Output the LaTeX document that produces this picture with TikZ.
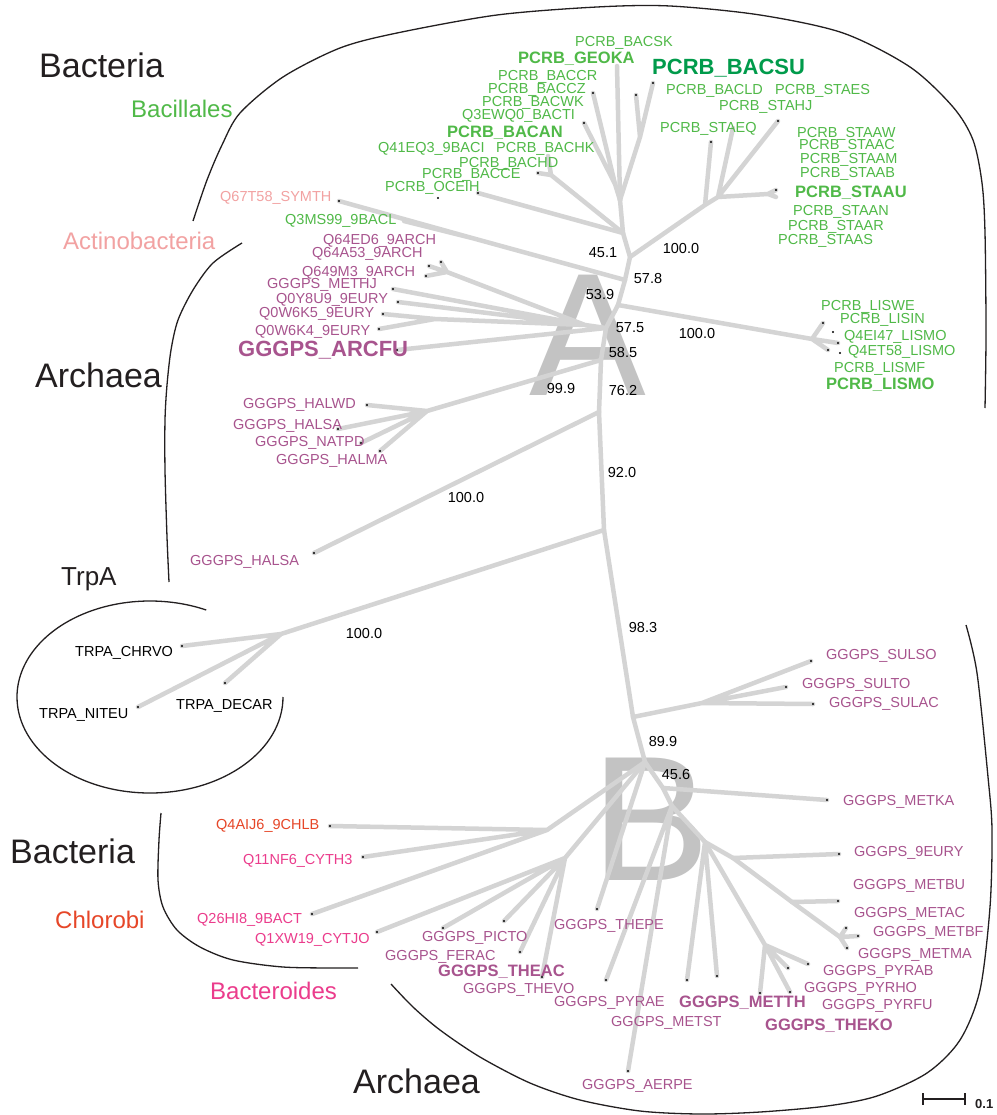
\documentclass[tikz,border=0pt]{standalone}
\usepackage{fontspec}
\setmainfont{Liberation Sans}
\definecolor{cgreen}{RGB}{80,185,72}
\definecolor{cdgreen}{RGB}{0,155,75}
\definecolor{cpurple}{RGB}{168,84,142}
\definecolor{cpink}{RGB}{242,162,162}
\definecolor{cred}{RGB}{230,70,40}
\definecolor{cmag}{RGB}{235,60,140}
\definecolor{ctext}{RGB}{35,31,32}
\definecolor{cbranch}{RGB}{212,212,212}
\definecolor{cletter}{RGB}{195,195,195}
\begin{document}
\begin{tikzpicture}[x=1pt,y=-1pt,
  br/.style={draw=cbranch,line width=4.5pt,line cap=round,line join=round},
  lab/.style={font=\fontsize{14.5}{16}\selectfont,inner sep=0pt,anchor=base west},
  blab/.style={font=\fontsize{16.5}{18}\selectfont\bfseries,inner sep=0pt,anchor=base west},
  hlab/.style={font=\fontsize{22}{24}\selectfont\bfseries,inner sep=0pt,anchor=base west},
  boot/.style={font=\fontsize{14.5}{16}\selectfont,inner sep=0pt,anchor=base,text=black},
  big/.style={font=\fontsize{34}{36}\selectfont,inner sep=0pt,anchor=base west,text=ctext},
  grp/.style={font=\fontsize{24}{26}\selectfont,inner sep=0pt,anchor=base west},
  curve/.style={draw=ctext,line width=1.3pt},
  gr/.style={lab,text=cgreen},
  pu/.style={lab,text=cpurple}]
\useasboundingbox (0,0) rectangle (996,1115);
\fill[white] (0,0) rectangle (996,1115);

% big letters
\node[font=\fontsize{175}{175}\selectfont,text=cletter,anchor=base,inner sep=0pt] (letA) at (588,395) {A};
\node[font=\fontsize{178}{178}\selectfont,text=cletter,anchor=base west,inner sep=0pt] (letB) at (591,880) {B};

% ---------- coordinates ----------
% trunk
\coordinate (t0) at (620,200);
\coordinate (t1) at (623,233);
\coordinate (t2) at (630,257);
\coordinate (t3) at (625,280);
\coordinate (t4) at (618,305);
\coordinate (t5) at (606,328);
\coordinate (t6) at (601,360);
\coordinate (t7) at (599,412);
\coordinate (t8) at (604,530);
\coordinate (t9) at (633,717);
\coordinate (t10) at (645,762);
\coordinate (t11) at (663,788);
\coordinate (t12) at (672,806);
\coordinate (t13) at (705,842);
% bacillales
\coordinate (bGEOKA) at (617,66);
\coordinate (bBACSU) at (653,83);
\coordinate (bX1) at (636,95);
\coordinate (jSU) at (640,137);
\coordinate (bBACCZ) at (593,93);
\coordinate (bBACTI) at (584,123);
\coordinate (jCZ) at (615,184);
\coordinate (bBACCE) at (538,173);
\coordinate (bBACHK) at (548,156);
\coordinate (jHD) at (551,175);
\coordinate (bOCEIH) at (478,193);
\coordinate (bX2) at (438,198);
% staph
\coordinate (jS1) at (705,205);
\coordinate (jS2) at (718,197);
\coordinate (sEQ) at (711,142);
\coordinate (sEQ2) at (733,128);
\coordinate (sHJ) at (778,121);
\coordinate (sAU) at (768,194);
\coordinate (sAUa) at (776,190);
\coordinate (sAUb) at (776,197);
% actino
\coordinate (aSYM) at (339,201);
\coordinate (aMS) at (404,221);
\coordinate (jAct) at (472,238);
% listeria
\coordinate (jL) at (812,339);
\coordinate (lWE) at (823,323);
\coordinate (lIN) at (833,332);
\coordinate (l3) at (838,343);
\coordinate (l4) at (828,350);
\coordinate (l5) at (840,353);
% archaea upper
\coordinate (qA) at (429,266);
\coordinate (qB) at (441,262);
\coordinate (qC) at (426,276);
\coordinate (jQ) at (447,272);
\coordinate (mHJ) at (393,289);
\coordinate (mY8) at (398,302);
\coordinate (mK5) at (383,314);
\coordinate (mK4) at (379,329);
\coordinate (jM1) at (435,319);
\coordinate (jM) at (585,325);
\coordinate (mAR) at (397,350);
% halo
\coordinate (jH) at (427,411);
\coordinate (hWD) at (367,405);
\coordinate (hSA) at (338,429);
\coordinate (hNA) at (361,443);
\coordinate (hMA) at (380,451);
\coordinate (hSA2) at (314,553);
% trpA
\coordinate (jT) at (281,634);
\coordinate (tCH) at (182,646);
\coordinate (tNI) at (138,707);
\coordinate (tDE) at (225,683);
% sul
\coordinate (jSul) at (702,703);
\coordinate (sSO) at (811,661);
\coordinate (sTO) at (786,687);
\coordinate (sAC) at (813,704);
% bottom left
\coordinate (jB) at (547,830);
\coordinate (cCH) at (330,826);
\coordinate (cCY) at (363,857);
\coordinate (cBA) at (312,914);
\coordinate (jTh) at (565,858);
\coordinate (cJO) at (377,932);
\coordinate (tPI) at (443,928);
\coordinate (tFE) at (504,921);
\coordinate (tTA) at (520,952);
\coordinate (tTV) at (542,977);
\coordinate (tPE) at (597,909);
% bottom right
\coordinate (mKA) at (827,800);
\coordinate (tAE) at (628,1071);
\coordinate (tPY) at (606,980);
\coordinate (tTH1) at (687,980);
\coordinate (tTH2) at (717,976);
\coordinate (jP) at (765,945);
\coordinate (pK) at (760,993);
\coordinate (pH) at (790,992);
\coordinate (pA1) at (788,968);
\coordinate (pA2) at (808,964);
\coordinate (d1) at (733,858);
\coordinate (m9E) at (839,854);
\coordinate (d2) at (792,902);
\coordinate (mBU) at (838,901);
\coordinate (jMA) at (840,937);
\coordinate (mAC) at (846,928);
\coordinate (mBF) at (858,936);
\coordinate (mMA) at (847,948);

% ---------- branches ----------
\draw[br] (t0)--(t1)--(t2)--(t3)--(t4)--(t5)--(t6)--(t7)--(t8)--(t9)--(t10)--(t11)--(t12)--(t13)--(d1)--(d2)--(jMA);
\draw[br] (bGEOKA)--(t0);
\draw[br] (bBACSU)--(jSU) (bX1)--(jSU) (jSU)--(t0);
\draw[br] (bBACCZ)--(jCZ) (bBACTI)--(jCZ) (jCZ)--(t0);
\draw[br] (bBACCE)--(jHD) (bBACHK)--(jHD) (jHD)--(t1);
\draw[br] (bOCEIH)--(t1);
\draw[br] (t2)--(jS1)--(sEQ) (jS1)--(jS2)--(sEQ2) (jS2)--(sHJ) (jS2)--(sAU)--(sAUa) (sAU)--(sAUb);
\draw[br] (aSYM)--(jAct)--(t3) (aMS)--(jAct);
\draw[br] (t4)--(jL)--(lWE) (jL)--(l3) (jL)--(l4);
\draw[br] (qA)--(jQ) (qB)--(jQ) (qC)--(jQ) (jQ)--(jM) (mHJ)--(jM) (mY8)--(jM) (mK5)--(jM1) (mK4)--(jM1) (jM1)--(jM) (jM)--(t5) (mAR)--(t5);
\draw[br] (t6)--(jH)--(hWD) (jH)--(hSA) (jH)--(hNA) (jH)--(hMA);
\draw[br] (t7)--(hSA2);
\draw[br] (t8)--(jT)--(tCH) (jT)--(tNI) (jT)--(tDE);
\draw[br] (t9)--(jSul)--(sSO) (jSul)--(sTO) (jSul)--(sAC);
\draw[br] (t10)--(jB)--(cCH) (jB)--(cCY) (jB)--(cBA);
\draw[br] (t10)--(jTh)--(cJO) (jTh)--(tPI) (jTh)--(tFE) (jTh)--(tTA) (jTh)--(tTV);
\draw[br] (t10)--(tPE);
\draw[br] (t11)--(mKA) (t12)--(tPY) (t12)--(tAE);
\draw[br] (t13)--(tTH1) (t13)--(tTH2) (t13)--(jP)--(pK) (jP)--(pH) (jP)--(pA1) (jP)--(pA2);
\draw[br] (d1)--(m9E) (d2)--(mBU) (jMA)--(mAC) (jMA)--(mBF) (jMA)--(mMA);

% ---------- tip dots ----------
\foreach \p in {bBACSU,bX1,bBACCZ,bBACTI,bBACCE,bOCEIH,bX2,sEQ,sHJ,sAUa,lWE,lIN,l3,l4,l5,aSYM,qA,qB,qC,mHJ,mY8,mK5,mK4,mAR,hWD,hSA,hNA,hMA,hSA2,tCH,tNI,tDE,sSO,sTO,sAC,cCH,cCY,cBA,cJO,tPI,tFE,tTA,tTV,tPE,mKA,tAE,tPY,tTH1,tTH2,pK,pH,pA1,pA2,m9E,mBU,mAC,mBF,mMA}
  \fill[black] (\p) circle[radius=1.2];

% ---------- outline curves ----------
\draw[curve] plot[smooth] coordinates {(193,221) (207,180) (222,145) (240,113) (283,77) (340,48) (397,33) (497,15) (597,7) (670,6) (760,15) (843,33) (910,67) (953,107) (973,140) (982,183) (985,233) (986,333) (985,408)};
\draw[curve] plot[smooth] coordinates {(242,243) (213,263) (193,290) (178,320) (171,350) (167,385) (165,420) (165,470) (167,537) (169,582)};
\draw[curve] (283,697) arc[start angle=0,end angle=295,x radius=133,y radius=96];
\draw[curve] plot[smooth] coordinates {(161,813) (159,840) (158,880) (163,907) (177,930) (200,947) (233,960) (283,967) (340,968) (358,968)};
\draw[curve] plot[smooth] coordinates {(391,984) (413,1007) (440,1030) (480,1057) (530,1083) (580,1100) (640,1111) (700,1114) (760,1112) (827,1106) (877,1096) (927,1073) (960,1040) (980,990) (990,907) (992,830) (988,777) (977,673) (966,625)};

% scale bar
\coordinate (sb1) at (923,1099);
\coordinate (sb2) at (965,1099);
\draw[draw=ctext,line width=2.4pt] (sb1)--(sb2);
\draw[draw=ctext,line width=1.6pt] (923,1093)--(923,1105) (965,1093)--(965,1105);
\node[font=\fontsize{13}{14}\selectfont\bfseries,text=ctext,inner sep=0pt,anchor=base west] (sblab) at (975,1108) {0.1};

% ---------- group labels ----------
\node[big] (gBact1) at (39,78) {Bacteria};
\node[grp,text=cgreen] (gBacil) at (131,118) {Bacillales};
\node[grp,text=cpink] (gActino) at (63,250) {Actinobacteria};
\node[big] (gArch1) at (35,387) {Archaea};
\node[font=\fontsize{26}{28}\selectfont,inner sep=0pt,anchor=base west,text=ctext] (gTrpA) at (61,585) {TrpA};
\node[big] (gBact2) at (10,863) {Bacteria};
\node[grp,text=cred] (gChlor) at (55,928) {Chlorobi};
\node[grp,text=cmag] (gBactero) at (210,999) {Bacteroides};
\node[big] (gArch2) at (353,1093) {Archaea};

% ---------- leaf labels ----------
\node[gr] (nBACSK) at (575,47) {PCRB\_BACSK};
\node[blab,text=cgreen] (nGEOKA) at (518,64) {PCRB\_GEOKA};
\node[hlab,text=cdgreen] (nBACSU) at (652,75) {PCRB\_BACSU};
\node[gr] (nBACCR) at (498,81) {PCRB\_BACCR};
\node[gr] (nBACCZ) at (488,94) {PCRB\_BACCZ};
\node[gr] (nBACWK) at (482,107) {PCRB\_BACWK};
\node[gr] (nBACTI) at (462,120) {Q3EWQ0\_BACTI};
\node[blab,text=cgreen] (nBACAN) at (447,138) {PCRB\_BACAN};
\node[gr] (n9BACI) at (378,153) {Q41EQ3\_9BACI};
\node[gr] (nBACHK) at (496,153) {PCRB\_BACHK};
\node[gr] (nBACHD) at (459,168) {PCRB\_BACHD};
\node[gr] (nBACCE) at (422,179) {PCRB\_BACCE};
\node[gr] (nOCEIH) at (385,192) {PCRB\_OCEIH};
\node[gr] (nBACLD) at (666,95) {PCRB\_BACLD};
\node[gr] (nSTAES) at (775,95) {PCRB\_STAES};
\node[gr] (nSTAHJ) at (719,111) {PCRB\_STAHJ};
\node[gr] (nSTAEQ) at (660,133) {PCRB\_STAEQ};
\node[gr] (nSTAAW) at (797,138) {PCRB\_STAAW};
\node[gr] (nSTAAC) at (799,150) {PCRB\_STAAC};
\node[gr] (nSTAAM) at (800,164) {PCRB\_STAAM};
\node[gr] (nSTAAB) at (800,178) {PCRB\_STAAB};
\node[blab,text=cgreen] (nSTAAU) at (795,198) {PCRB\_STAAU};
\node[gr] (nSTAAN) at (793,215) {PCRB\_STAAN};
\node[gr] (nSTAAR) at (788,230) {PCRB\_STAAR};
\node[gr] (nSTAAS) at (778,244) {PCRB\_STAAS};
\node[gr] (nLISWE) at (821,310) {PCRB\_LISWE};
\node[gr] (nLISIN) at (840,323) {PCRB\_LISIN};
\node[gr] (nQ4EI) at (844,340) {Q4EI47\_LISMO};
\node[gr] (nQ4ET) at (848,355) {Q4ET58\_LISMO};
\node[gr] (nLISMF) at (834,372) {PCRB\_LISMF};
\node[blab,text=cgreen] (nLISMO) at (826,389) {PCRB\_LISMO};
\node[gr] (nQ3MS) at (285,225) {Q3MS99\_9BACL};
\node[lab,text=cpink] (nSYMTH) at (220,202) {Q67T58\_SYMTH};
\node[pu] (nQ64ED) at (323,244) {Q64ED6\_9ARCH};
\node[pu] (nQ64A5) at (312,258) {Q64A53\_9ARCH};
\node[pu] (nQ649) at (302,276) {Q649M3\_9ARCH};
\node[pu] (nMETHJ) at (267,288) {GGGPS\_METHJ};
\node[pu] (nQ0Y8) at (276,303) {Q0Y8U9\_9EURY};
\node[pu] (nQ0K5) at (259,317) {Q0W6K5\_9EURY};
\node[pu] (nQ0K4) at (255,335) {Q0W6K4\_9EURY};
\node[hlab,text=cpurple] (nARCFU) at (238,356) {GGGPS\_ARCFU};
\node[pu] (nHALWD) at (243,408) {GGGPS\_HALWD};
\node[pu] (nHALSA) at (233,429) {GGGPS\_HALSA};
\node[pu] (nNATPD) at (255,446) {GGGPS\_NATPD};
\node[pu] (nHALMA) at (276,464) {GGGPS\_HALMA};
\node[pu] (nHALSA2) at (190,565) {GGGPS\_HALSA};
\node[lab,text=black] (nCHRVO) at (75,656) {TRPA\_CHRVO};
\node[lab,text=black] (nNITEU) at (39,718) {TRPA\_NITEU};
\node[lab,text=black] (nDECAR) at (176,709) {TRPA\_DECAR};
\node[lab,text=cred] (nCHLB) at (216,829) {Q4AIJ6\_9CHLB};
\node[lab,text=cmag] (nCYTH) at (243,864) {Q11NF6\_CYTH3};
\node[lab,text=cmag] (n9BACT) at (197,923) {Q26HI8\_9BACT};
\node[lab,text=cmag] (nCYTJO) at (255,943) {Q1XW19\_CYTJO};
\node[pu] (nPICTO) at (422,941) {GGGPS\_PICTO};
\node[pu] (nFERAC) at (385,960) {GGGPS\_FERAC};
\node[blab,text=cpurple] (nTHEAC) at (438,976) {GGGPS\_THEAC};
\node[pu] (nTHEVO) at (463,993) {GGGPS\_THEVO};
\node[pu] (nTHEPE) at (554,929) {GGGPS\_THEPE};
\node[pu] (nPYRAE) at (554,1006) {GGGPS\_PYRAE};
\node[pu] (nMETST) at (611,1026) {GGGPS\_METST};
\node[pu] (nAERPE) at (582,1089) {GGGPS\_AERPE};
\node[blab,text=cpurple] (nMETTH) at (679,1007) {GGGPS\_METTH};
\node[blab,text=cpurple] (nTHEKO) at (765,1030) {GGGPS\_THEKO};
\node[pu] (nPYRAB) at (823,975) {GGGPS\_PYRAB};
\node[pu] (nPYRHO) at (804,992) {GGGPS\_PYRHO};
\node[pu] (nPYRFU) at (822,1009) {GGGPS\_PYRFU};
\node[pu] (nMETMA) at (858,958) {GGGPS\_METMA};
\node[pu] (nMETBF) at (873,936) {GGGPS\_METBF};
\node[pu] (nMETAC) at (854,917) {GGGPS\_METAC};
\node[pu] (nMETBU) at (853,889) {GGGPS\_METBU};
\node[pu] (n9EURY) at (854,856) {GGGPS\_9EURY};
\node[pu] (nMETKA) at (843,805) {GGGPS\_METKA};
\node[pu] (nSULSO) at (826,659) {GGGPS\_SULSO};
\node[pu] (nSULTO) at (802,688) {GGGPS\_SULTO};
\node[pu] (nSULAC) at (829,707) {GGGPS\_SULAC};

% ---------- bootstrap values ----------
\node[boot] (v1) at (603,258) {45.1};
\node[boot] (v2) at (648,283) {57.8};
\node[boot] (v3) at (600,299) {53.9};
\node[boot] (v4) at (630,332) {57.5};
\node[boot] (v5) at (623,357) {58.5};
\node[boot] (v6) at (561,393) {99.9};
\node[boot] (v7) at (623,395) {76.2};
\node[boot] (v8) at (681,253) {100.0};
\node[boot] (v9) at (697,338) {100.0};
\node[boot] (v10) at (622,477) {92.0};
\node[boot] (v11) at (466,502) {100.0};
\node[boot] (v12) at (364,638) {100.0};
\node[boot] (v13) at (643,632) {98.3};
\node[boot] (v14) at (663,746) {89.9};
\node[boot] (v15) at (676,779) {45.6};
\end{tikzpicture}
\end{document}
